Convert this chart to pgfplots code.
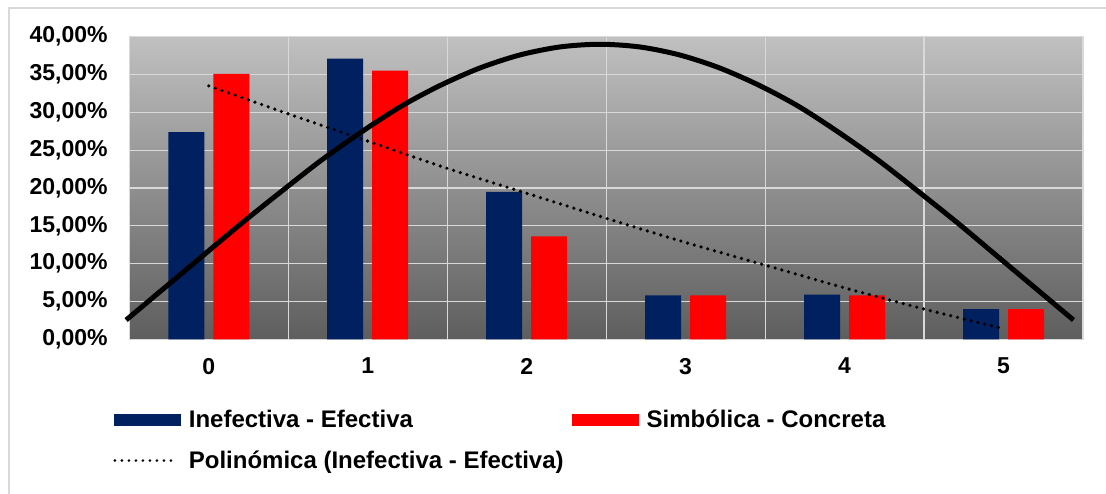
\documentclass[border=0pt]{standalone}
\usepackage{pgfplots}
\pgfplotsset{compat=1.18}
\usepackage{fontspec}
\setmainfont{Liberation Sans}

\definecolor{navy}{HTML}{002060}
\definecolor{gridcol}{HTML}{D9D9D9}
\definecolor{bgtop}{HTML}{C0C0C0}
\definecolor{bgbot}{HTML}{5E5E5E}

\begin{document}
\begin{tikzpicture}
    % page size and chart frame
    \path[use as bounding box] (-129.3pt,-153.7pt) rectangle (976.7pt,339.3pt);
    \draw[gridcol, line width=2pt] (-120pt,-170pt) rectangle (1000pt,331pt);
    \begin{axis}[
        scale only axis,
        width=953.7pt, height=302.6pt,
        xmin=-0.5, xmax=5.5,
        ymin=0, ymax=40,
        clip=false,
        axis background/.style={top color=bgtop, bottom color=bgbot},
        axis line style={gridcol, line width=1.2pt},
        major tick length=0pt, minor tick length=0pt,
        xtick={0,1,2,3,4,5},
        xticklabels={0,1,2,3,4,5},
        minor xtick={-0.5,0.5,1.5,2.5,3.5,4.5,5.5},
        xminorgrids,
        ytick={0,5,10,15,20,25,30,35,40},
        yticklabels={{0,00\%},{5,00\%},{10,00\%},{15,00\%},{20,00\%},{25,00\%},{30,00\%},{35,00\%},{40,00\%}},
        ymajorgrids,
        grid style={gridcol, line width=1.2pt},
        minor grid style={gridcol, line width=1.2pt},
        tick label style={font=\bfseries\fontsize{23}{23}\selectfont, inner sep=0pt},
        yticklabel style={anchor=east, xshift=-21.5pt},
        xticklabel style={anchor=north, yshift=-18.5pt},
        legend columns=2,
        legend cell align=left,
        legend style={draw=none, fill=none, inner sep=0pt,
            at={(-0.0168,-0.238)}, anchor=north west,
            column sep=8pt, row sep=25pt,
            font=\bfseries\fontsize{24}{24}\selectfont,
            nodes={text height=16pt, text depth=0pt, inner sep=0pt}},
    ]
    % Inefectiva - Efectiva
    \addplot[ybar, bar width=36pt, bar shift=-22.5pt, fill=navy, draw=none,
        legend image code/.code={\fill[navy] (0pt,-6pt) rectangle (67pt,6pt);}]
    coordinates {(0,27.4) (1,37.1) (2,19.5) (3,5.8) (4,5.9) (5,4.0)};
    \addlegendentry{Inefectiva - Efectiva}
    % Simbólica - Concreta
    \addplot[ybar, bar width=36pt, bar shift=22.5pt, fill=red, draw=none,
        legend image code/.code={\fill[red] (0pt,-6pt) rectangle (67pt,6pt);}]
    coordinates {(0,35.1) (1,35.5) (2,13.6) (3,5.8) (4,5.8) (5,4.0)};
    \addlegendentry{Simbólica - Concreta}
    % curva
    \addplot[black, line width=5pt, smooth, forget plot]
    coordinates {(-0.52,2.55) (-0.29,6.6) (-0.04,11.0) (0.21,15.4) (0.46,19.6) (0.71,23.7)
        (0.96,27.4) (1.21,30.8) (1.46,33.6) (1.71,35.9) (1.96,37.6) (2.21,38.65) (2.46,39.0)
        (2.71,38.65) (2.96,37.6) (3.21,35.9) (3.46,33.6) (3.71,30.8) (3.96,27.4) (4.21,23.7)
        (4.46,19.6) (4.71,15.4) (4.96,11.0) (5.21,6.6) (5.44,2.55)};
    % Polinómica (Inefectiva - Efectiva)
    \addplot[black, line width=3.6pt, line cap=round, dash pattern=on 0pt off 7pt, smooth,
        legend image code/.code={\draw[black, line width=2.8pt, line cap=round, dash pattern=on 0pt off 7pt] (1pt,0pt) -- (64pt,0pt);}]
    coordinates {(0,33.5) (0.5,29.8) (1,26.2) (1.5,22.6) (2,19.3) (2.5,16.0)
        (3,12.8) (3.5,9.8) (4,6.8) (4.5,4.0) (5,1.4)};
    \addlegendentry{Polinómica (Inefectiva - Efectiva)}
    \end{axis}
\end{tikzpicture}
\end{document}
